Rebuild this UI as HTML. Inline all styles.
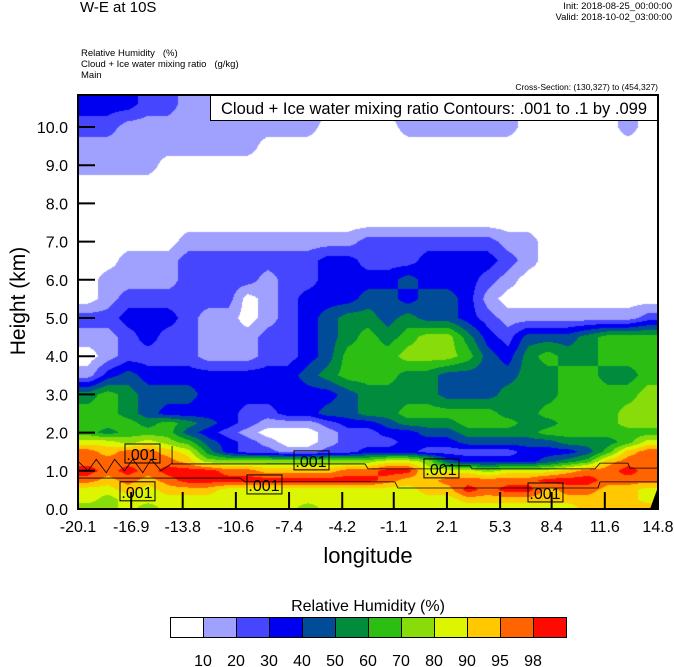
<!DOCTYPE html>
<html><head><meta charset="utf-8">
<style>
body{margin:0;background:#fff;width:674px;height:667px;overflow:hidden;position:relative;font-family:"Liberation Sans",sans-serif;}
.t{position:absolute;white-space:nowrap;color:#000;}
#plotcanvas{position:absolute;left:78px;top:95px;}
#overlay{position:absolute;left:0;top:0;}
</style></head>
<body>
<div class="t" style="left:80px;top:-1px;font-size:15px;">W-E at 10S</div>
<div class="t" style="right:2px;top:1px;font-size:9.5px;text-align:right;">Init: 2018-08-25_00:00:00</div>
<div class="t" style="right:2px;top:12px;font-size:9.5px;text-align:right;">Valid: 2018-10-02_03:00:00</div>
<div class="t" style="left:81px;top:48px;font-size:9.5px;">Relative Humidity &nbsp;&nbsp;(%)</div>
<div class="t" style="left:81px;top:59px;font-size:9.5px;">Cloud + Ice water mixing ratio &nbsp;&nbsp;(g/kg)</div>
<div class="t" style="left:81px;top:70px;font-size:9.5px;">Main</div>
<div class="t" style="right:16px;top:82px;font-size:8.5px;">Cross-Section: (130,327) to (454,327)</div>
<canvas id="plotcanvas" width="580" height="414"></canvas>
<svg id="overlay" width="674" height="667"></svg>
<script>
// ---- data ----
const heights = [10.6,10,9.5,9,8.5,8,7.5,7,6.5,6,5.5,5,4.5,4,3.5,3,2.5,2.25,2,1.75,1.5,1.25,1,0.75,0.5,0.25,0.05];
const rhClass = [
[3,3,3,2,2,1,1,1,1,1,1,1,1,1,1,1,1,1,1,1,1,1,0,0,0,0,0,1,0],
[2,2,1,1,1,1,1,1,1,1,1,1,0,0,0,0,1,1,1,1,1,1,0,0,0,0,0,1,0],
[1,1,1,1,1,1,1,1,1,0,0,0,0,0,0,0,0,0,0,0,0,0,0,0,0,0,0,0,0],
[1,1,1,1,0,0,0,0,0,0,0,0,0,0,0,0,0,0,0,0,0,0,0,0,0,0,0,0,0],
[0,0,0,0,0,0,0,0,0,0,0,0,0,0,0,0,0,0,0,0,0,0,0,0,0,0,0,0,0],
[0,0,0,0,0,0,0,0,0,0,0,0,0,0,0,0,0,0,0,0,0,0,0,0,0,0,0,0,0],
[0,0,0,0,0,0,0,0,0,0,0,0,0,0,0,0,0,0,0,0,0,0,0,0,0,0,0,0,0],
[0,0,0,0,0,1,1,1,1,1,1,1,1,1,2,2,2,2,2,2,2,1,1,0,0,0,0,0,0],
[0,0,1,1,1,2,2,2,2,2,2,2,3,3,2,2,2,3,3,3,3,2,1,0,0,0,0,0,0],
[0,1,1,1,1,2,2,2,2,1,2,2,3,3,3,3,4,3,3,3,2,1,0,0,0,0,0,0,0],
[0,1,2,2,2,2,2,2,0,1,2,3,3,3,4,4,3,4,4,3,1,0,0,0,0,0,0,0,0],
[2,2,3,3,3,2,1,1,0,1,2,3,4,5,5,4,5,4,4,3,2,1,1,1,1,1,1,1,2],
[1,1,2,3,2,2,1,1,1,2,2,3,4,5,6,5,6,7,7,5,3,2,4,4,4,5,6,6,6],
[0,1,2,2,2,2,1,1,1,2,2,3,4,6,6,6,7,7,7,6,4,3,5,6,5,5,6,6,6],
[1,3,4,3,3,3,3,3,3,3,3,4,5,6,6,6,5,5,4,4,4,4,5,5,6,6,5,5,6],
[5,6,5,4,4,4,3,3,3,3,3,3,3,4,5,5,5,5,4,4,4,5,5,5,6,6,6,6,7],
[6,6,5,4,3,3,3,3,2,2,3,3,4,4,5,5,6,6,6,6,6,5,5,6,6,6,6,7,7],
[6,6,6,5,6,5,4,3,2,1,1,1,2,3,3,4,5,5,5,6,6,6,5,5,6,6,6,7,7],
[6,5,6,6,6,4,3,2,1,0,0,0,1,2,2,3,3,4,4,5,5,5,5,6,6,6,6,6,6],
[8,8,7,8,7,6,4,3,2,1,0,0,1,2,2,2,3,3,3,4,4,4,4,4,5,5,5,6,8],
[10,9,10,10,9,8,5,3,2,2,1,1,2,2,3,3,3,2,2,2,2,2,3,3,3,4,6,9,10],
[10,10,10,10,10,9,7,7,7,7,7,7,7,7,7,8,8,7,4,3,3,3,3,4,5,6,9,10,10],
[11,10,11,10,11,11,11,10,10,9,9,9,9,10,10,11,11,8,8,8,7,8,8,8,9,10,10,11,10],
[10,9,10,9,10,11,11,11,11,11,11,11,11,11,11,10,9,9,10,10,10,10,10,11,11,11,10,10,10],
[8,8,9,8,9,9,9,8,8,8,8,8,8,8,8,8,8,9,9,11,10,11,11,9,10,10,9,9,8],
[8,7,8,8,8,8,8,8,8,8,8,8,8,8,8,8,8,8,8,9,9,9,9,9,9,9,9,9,8],
[7,7,8,7,8,8,8,8,8,8,8,7,8,8,8,8,8,8,8,8,8,8,8,8,8,9,9,9,9]
];
const xTickLabels = ["-20.1","-16.9","-13.8","-10.6","-7.4","-4.2","-1.1","2.1","5.3","8.4","11.6","14.8"];
const yTickLabels = ["0.0","1.0","2.0","3.0","4.0","5.0","6.0","7.0","8.0","9.0","10.0"];
const levelLabels = ["10","20","30","40","50","60","70","80","90","95","98"];
const upperLon = [-14.44,-14.44,-2.83,-2.65,1.68,1.98,3.49,3.61,11.01,11.31,12.99,13.11,14.8];
const upperH   = [1.65,1.18,1.18,1.05,1.05,1.13,1.13,1.05,1.05,1.20,1.20,1.07,1.07];
const lowerLon = [-20.1,-14.44,-10.35,-10.05,-1.03,-0.85,11.19,11.31,14.8];
const lowerH   = [0.81,0.81,0.81,0.71,0.71,0.55,0.55,0.71,0.71];
const leftLon  = [-20.1,-19.5,-19.0,-18.4,-17.9,-17.3,-16.8,-16.2,-15.7,-15.1,-14.44];
const leftH    = [1.25,1.0,1.3,0.95,1.3,1.0,1.3,0.95,1.3,1.0,1.2];
const labelLon = [-16.25,-16.55,-6.08,-8.91,1.74,8.0];
const labelH   = [1.44,0.45,1.26,0.63,1.05,0.42];
const colors = ["#ffffff","#a0a0ff","#4646ff","#0000f0","#004c99","#008c3c","#2dbe14","#87dc0a","#dcf500","#ffc800","#ff6400","#ff0a00"];

// ---- axes ----
const X0=78,X1=658,Y0=509,LON0=-20.1,LON1=14.8,KM=38.2;
const xs = lon => X0 + (lon-LON0)/(LON1-LON0)*(X1-X0);
const ys = h => Y0 - h*KM;
const nCols = rhClass[0].length;
const colLon = j => LON0 + (j+0.5)/nCols*(LON1-LON0);

// ---- field ----
const cv=document.getElementById('plotcanvas'),ctx=cv.getContext('2d');
const img=ctx.createImageData(580,414);
const rgb=colors.map(c=>[parseInt(c.substr(1,2),16),parseInt(c.substr(3,2),16),parseInt(c.substr(5,2),16)]);
for(let py=0;py<414;py++){
  const h=(Y0-(95+py+0.5))/KM;
  let i=0; while(i<heights.length-2 && h<heights[i+1]) i++;
  let fr=(heights[i]-h)/(heights[i]-heights[i+1]); fr=Math.max(0,Math.min(1,fr));
  for(let px=0;px<580;px++){
    const lon=LON0+(px+0.5)/580*(LON1-LON0);
    let c=(lon-colLon(0))/(colLon(1)-colLon(0)); c=Math.max(0,Math.min(nCols-1.0001,c));
    const j=Math.floor(c),fc=c-j;
    const a=rhClass[i][j]*(1-fc)+rhClass[i][j+1]*fc;
    const b=rhClass[i+1][j]*(1-fc)+rhClass[i+1][j+1]*fc;
    const v=Math.round(a*(1-fr)+b*fr);
    const k=(py*580+px)*4,col=rgb[v];
    img.data[k]=col[0];img.data[k+1]=col[1];img.data[k+2]=col[2];img.data[k+3]=255;
  }
}
ctx.putImageData(img,0,0);

// ---- overlay ----
const svg=document.getElementById('overlay'),NS='http://www.w3.org/2000/svg';
function mk(tag,attrs,parent){const e=document.createElementNS(NS,tag);for(const k in attrs)e.setAttribute(k,attrs[k]);(parent||svg).appendChild(e);return e;}
function poly(lons,hs,name){
  const p=mk('polyline',{points:lons.map((l,i)=>xs(l)+','+ys(hs[i])).join(' '),fill:'none',stroke:'#000','stroke-width':0.8});
  
  
}
poly(upperLon,upperH,'qc-contour-upper');
poly(lowerLon,lowerH,'qc-contour-lower');
poly(leftLon,leftH,'qc-contour-left');
labelLon.forEach((l,i)=>{
  const g=mk('g',{});
  
  
  mk('rect',{x:xs(l)-17,y:ys(labelH[i])-10,width:35,height:19,fill:'none',stroke:'#000','stroke-width':1},g);
  const t=mk('text',{x:xs(l),y:ys(labelH[i])+6,'text-anchor':'middle','font-size':16,'font-family':'Liberation Sans, sans-serif'},g);
  t.textContent='.001';
});
const cor=mk('polygon',{points:`${X1-8},${Y0} ${X1},${Y0-22} ${X1},${Y0}`,fill:'#000'});


const fr=mk('rect',{x:X0,y:95,width:X1-X0,height:Y0-95,fill:'none',stroke:'#000','stroke-width':2});


const tb=mk('rect',{x:210.5,y:95.5,width:447,height:25,fill:'#fff',stroke:'#000','stroke-width':1});


const tbt=mk('text',{x:434,y:114,'text-anchor':'middle','font-size':16.5,'font-family':'Liberation Sans, sans-serif'});
tbt.textContent='Cloud + Ice water mixing ratio Contours: .001 to .1 by .099';


yTickLabels.forEach((s,i)=>{
  const v=parseFloat(s);
  const tk=mk('line',{x1:X0,x2:X0+17,y1:ys(v),y2:ys(v),stroke:'#000','stroke-width':2});
  
  
  const t=mk('text',{x:68,y:ys(v)+6,'text-anchor':'end','font-size':16,'font-family':'Liberation Sans, sans-serif'});
  t.textContent=s;
  
  
});
xTickLabels.forEach((s,i)=>{
  const v=parseFloat(s);
  const tk=mk('line',{x1:xs(v),x2:xs(v),y1:Y0,y2:Y0-17,stroke:'#000','stroke-width':2});
  
  
  const t=mk('text',{x:xs(v),y:532,'text-anchor':'middle','font-size':16,'font-family':'Liberation Sans, sans-serif'});
  t.textContent=s;
  
  
});
const xt=mk('text',{x:368,y:563,'text-anchor':'middle','font-size':22,'font-family':'Liberation Sans, sans-serif'});
xt.textContent='longitude';


const yt=mk('text',{x:0,y:0,'text-anchor':'middle','font-size':21,'font-family':'Liberation Sans, sans-serif',transform:'translate(25,301) rotate(-90)'});
yt.textContent='Height (km)';


const ct=mk('text',{x:368,y:611,'text-anchor':'middle','font-size':16,'font-family':'Liberation Sans, sans-serif'});
ct.textContent='Relative Humidity  (%)';


colors.forEach((c,i)=>{
  const r=mk('rect',{x:170.5+i*33,y:617.5,width:33,height:20,fill:c,stroke:'#000','stroke-width':1});
  
  
});
levelLabels.forEach((s,i)=>{
  const t=mk('text',{x:170+(i+1)*33,y:666,'text-anchor':'middle','font-size':16,'font-family':'Liberation Sans, sans-serif'});
  t.textContent=s;
  
  
});
</script>
</body></html>
